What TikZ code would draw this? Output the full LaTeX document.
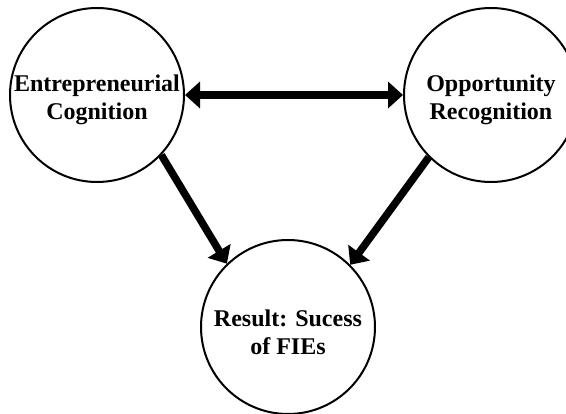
\documentclass[tikz,border=0pt]{standalone}
\usepackage{fontspec}
\setmainfont{Liberation Serif}
\usepackage{tikz}
\usetikzlibrary{arrows.meta}

\tikzset{
  factor/.style={circle, draw, line width=2pt, minimum size=174pt, inner sep=0pt},
  factortext/.style={align=center, yshift=-5pt, font=\bfseries\fontsize{24}{28}\selectfont},
  link/.style={line width=7.5pt, -{Triangle[length=15pt,width=26pt]}}
}

\begin{document}
\begin{tikzpicture}[x=1pt,y=-1pt]
  \clip (0,0) rectangle (566,414);
  \node[factor, label={[factortext]center:Entrepreneurial\\Cognition}] at (97,95) (cog) {};
  \node[factor, label={[factortext]center:Opportunity\\Recognition}] at (491,95) (opp) {};
  \node[factor, label={[factortext]center:Result: Sucess\\of FIEs}] at (288,327) (res) {};

  \draw[link, {Triangle[length=15pt,width=26pt]}-{Triangle[length=15pt,width=26pt]}] (cog.east) -- (opp.west);
  \draw[link] (cog.-43) -- (res.134);
  \draw[link] (opp.225) -- (res.45);
\end{tikzpicture}
\end{document}
